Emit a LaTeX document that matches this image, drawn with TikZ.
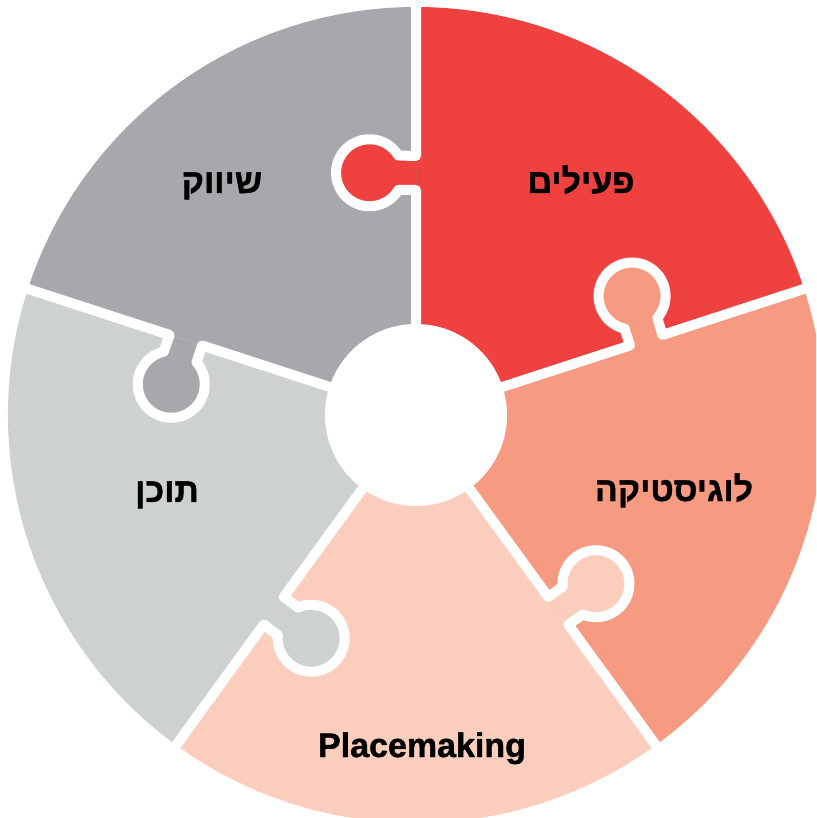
\documentclass[tikz,border=0pt]{standalone}
\usepackage{fontspec}
\setmainfont{Liberation Sans}[BoldFeatures={FakeBold=1.2}]
\newfontfamily\hebfont[Script=Hebrew,BoldFeatures={FakeBold=1.2}]{Liberation Sans}
\TeXXeTstate=1
\definecolor{pred}{HTML}{EF4140}
\definecolor{pgray}{HTML}{A7A8AC}
\definecolor{plight}{HTML}{CED1D2}
\definecolor{ppeach}{HTML}{FBCDBD}
\definecolor{psalmon}{HTML}{F79A82}
\newcommand{\tabpath}{(225,0) -- (225,17.7) arc[start angle=239,end angle=-59,radius=33.5] -- (259,0)}
\tikzset{
  gapline/.style={white, line width=10pt, line join=round},
  lbl/.style={font=\fontsize{34}{40}\selectfont\bfseries, text=black, anchor=base, inner sep=0pt},
}
\begin{document}
\begin{tikzpicture}[x=1pt,y=1pt]
\useasboundingbox (-416,-403) rectangle (400,415);
\clip (-416,-403) rectangle (400,415);
% sectors
\fill[pred] (0,0) -- (18:408) arc[start angle=18,end angle=90,radius=408] -- cycle;
\fill[pgray] (0,0) -- (90:408) arc[start angle=90,end angle=162,radius=408] -- cycle;
\fill[plight] (0,0) -- (162:408) arc[start angle=162,end angle=234,radius=408] -- cycle;
\fill[ppeach] (0,0) -- (234:408) arc[start angle=234,end angle=306,radius=408] -- cycle;
\fill[psalmon] (0,0) -- (306:408) arc[start angle=306,end angle=378,radius=408] -- cycle;
% tabs and gaps
\foreach \ang/\col in {90/pred,162/pgray,234/plight,306/ppeach,18/psalmon}{
  \begin{scope}[rotate=\ang]
    \fill[\col] \tabpath -- cycle;
    \draw[gapline] (0,0) -- \tabpath -- (420,0);
  \end{scope}
}
% center hole
\fill[white] (0,0) circle[radius=91];
% labels
\node[lbl] (l1) at (165,222) {\hebfont\beginR פעילים\endR};
\node[lbl] (l2) at (-194,222) {\hebfont\beginR שיווק\endR};
\node[lbl] (l3) at (258,-86) {\hebfont\beginR לוגיסטיקה\endR};
\node[lbl] (l4) at (-249,-87) {\hebfont\beginR תוכן\endR};
\node[lbl] (l5) at (6,-342) {Placemaking};
\end{tikzpicture}
\end{document}
